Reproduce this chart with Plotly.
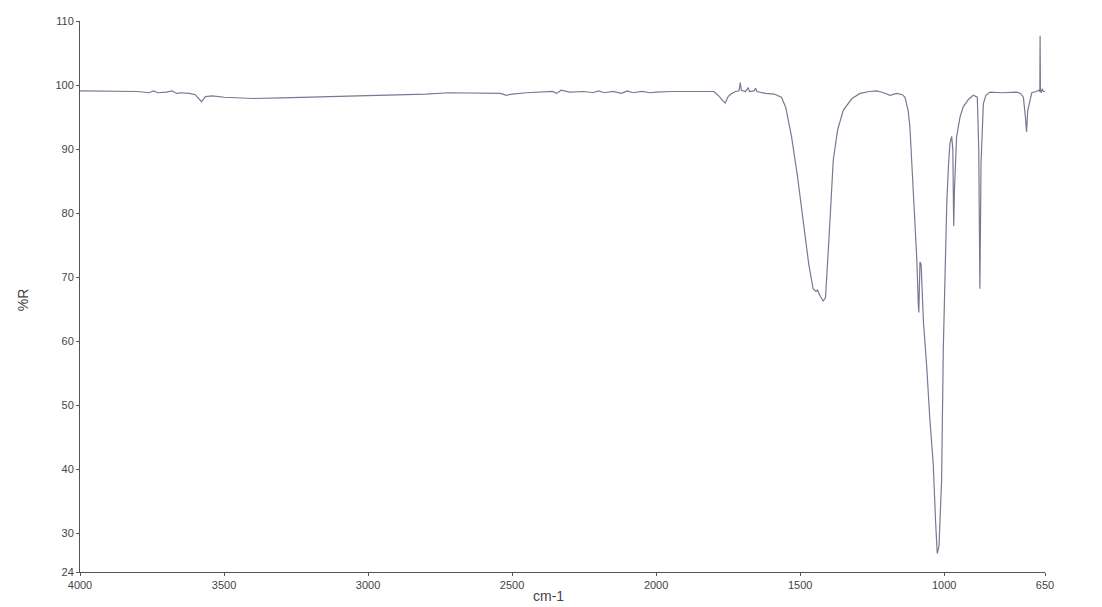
import plotly.graph_objects as go

wavenumber = [4000, 3900, 3800, 3760, 3745, 3730, 3700, 3680, 3665, 3650, 3620, 3600, 3590, 3578, 3565, 3540,
              3500, 3400, 3300, 3200, 3100, 3000, 2900, 2800, 2720, 2600, 2540, 2520, 2500, 2450,
              2400, 2360, 2345, 2330, 2300, 2250, 2220, 2200, 2180, 2150, 2120, 2100, 2080, 2050, 2020,
              2000, 1950, 1900, 1850, 1800, 1790, 1780, 1770, 1760, 1750, 1740, 1725, 1712, 1708, 1704,
              1690, 1680, 1676, 1660, 1655, 1650, 1620, 1590, 1565, 1550, 1530, 1510, 1490, 1470, 1455,
              1445, 1440, 1432, 1420, 1412, 1400, 1385, 1370, 1350, 1320, 1292, 1260, 1234, 1210, 1188,
              1165, 1145, 1136, 1125, 1119, 1107, 1095, 1090, 1088, 1084, 1080, 1072, 1061, 1050, 1038,
              1030, 1024, 1018, 1009, 1003, 995, 991, 985, 980, 974, 970, 967, 964, 957, 945, 934, 915,
              899, 885, 880, 876, 872, 864, 855, 841, 800, 770, 748, 735, 725, 718, 714, 710, 696, 680,
              672, 668, 667, 666, 663, 660, 655, 650]
percent_r = [99.1, 99.0, 99.0, 98.8, 99.1, 98.8, 98.9, 99.1, 98.7, 98.8, 98.7, 98.5, 98.0, 97.4, 98.2, 98.3,
             98.1, 97.9, 98.0, 98.1, 98.3, 98.4, 98.5, 98.6, 98.8, 98.8, 98.7, 98.4, 98.6, 98.8,
             98.9, 99.0, 98.7, 99.2, 98.9, 99.0, 98.8, 99.1, 98.8, 99.0, 98.7, 99.1, 98.8, 99.0, 98.8,
             98.9, 99.0, 99.0, 99.0, 99.0, 98.6, 98.2, 97.6, 97.2, 98.2, 98.6, 99.0, 99.1, 100.4, 99.2,
             99.0, 99.6, 99.0, 99.1, 99.5, 99.0, 98.7, 98.6, 98.1, 96.5, 92.0, 86.0, 79.0, 72.0, 68.2,
             67.8, 68.0, 67.2, 66.3, 66.8, 76.0, 88.3, 93.0, 96.1, 97.9, 98.7, 99.0, 99.1, 98.8, 98.4,
             98.7, 98.5, 98.1, 96.0, 93.5, 83.2, 72.8, 66.0, 64.5, 72.4, 72.0, 63.0, 56.3, 48.0, 40.9,
             32.0, 26.9, 28.0, 38.3, 58.9, 74.4, 81.6, 87.5, 90.9, 92.0, 90.0, 78.0, 84.0, 91.9, 95.0, 96.6, 97.8,
             98.4, 98.1, 90.0, 68.2, 88.0, 97.1, 98.4, 98.9, 98.8, 98.9, 98.9, 98.7, 98.1, 95.0, 92.7, 96.0, 98.8, 99.0,
             99.2, 99.0, 107.7, 99.3, 98.8, 99.4, 99.0, 99.0]

x_ticks = [4000, 3500, 3000, 2500, 2000, 1500, 1000, 650]
y_ticks = [24, 30, 40, 50, 60, 70, 80, 90, 100, 110]

FONT = "Liberation Sans, Arial"

fig = go.Figure()
fig.add_trace(go.Scatter(x=wavenumber, y=percent_r, mode="lines",
                         line=dict(color="#807592", width=1.2), showlegend=False))

axis_common = dict(showgrid=False, zeroline=False, showline=True, linecolor="#555", linewidth=1,
                   ticks="outside", ticklen=3, tickcolor="#555", automargin=False,
                   tickfont=dict(family=FONT, size=11, color="#444"))
fig.update_xaxes(range=[4000, 650], tickvals=x_ticks, ticktext=[str(v) for v in x_ticks], **axis_common)
fig.update_yaxes(range=[24, 110], tickvals=y_ticks, ticktext=[str(v) for v in y_ticks], **axis_common)
fig.add_annotation(text="%R", xref="paper", yref="paper", x=-0.0596, y=0.494, xanchor="center", yanchor="middle",
                   textangle=-90, showarrow=False, font=dict(family=FONT, size=14, color="#444"))
fig.add_annotation(text="cm-1", xref="paper", yref="paper", x=0.4855, y=-0.0444, xanchor="center", yanchor="middle",
                   showarrow=False, font=dict(family=FONT, size=14, color="#444"))
fig.update_layout(width=1102, height=607, plot_bgcolor="white", paper_bgcolor="white",
                  margin=dict(l=71.5, r=65, t=13, b=42.5, autoexpand=False))
fig.write_html("out.html")
